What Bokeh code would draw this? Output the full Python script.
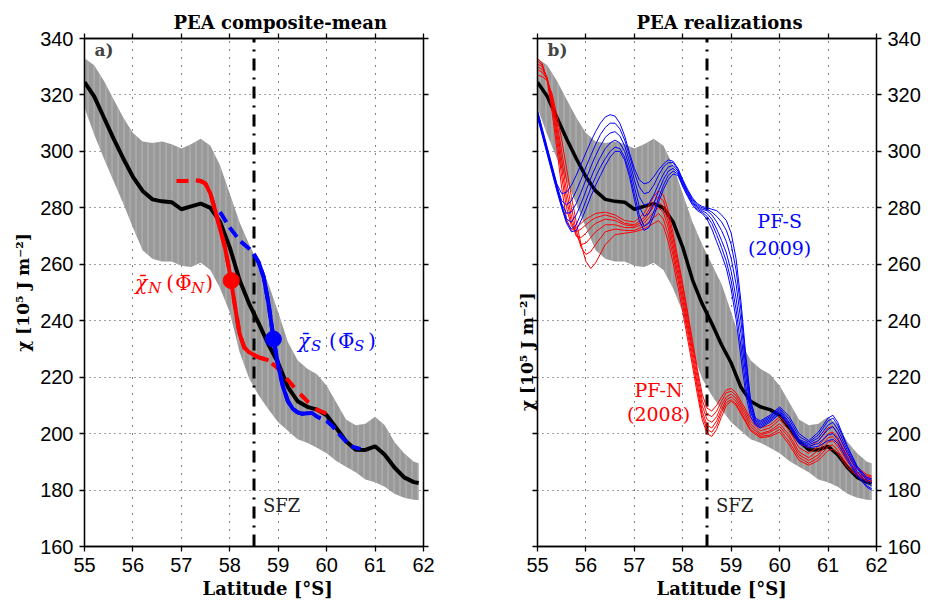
import math
from bokeh.plotting import figure
from bokeh.models import Range1d, FixedTicker, LinearAxis, CustomJSTickFormatter, Title, Label
from bokeh.layouts import row
from bokeh.embed import file_html
from bokeh.resources import INLINE

# ---------------- data ----------------
X_LO, X_HI = 55, 62
Y_LO, Y_HI = 160, 340
XTICKS = [55, 56, 57, 58, 59, 60, 61, 62]
YTICKS = [160, 180, 200, 220, 240, 260, 280, 300, 320, 340]
SFZ_LAT = 58.5

MEAN_LAT = [55.0, 55.2, 55.4, 55.6, 55.8, 56.0, 56.2, 56.4, 56.6, 56.8, 57.0, 57.2, 57.4, 57.6, 57.8,
            58.0, 58.2, 58.4, 58.6, 58.8, 59.0, 59.2, 59.4, 59.6, 59.8, 60.0, 60.2, 60.4, 60.6, 60.8,
            61.0, 61.2, 61.4, 61.6, 61.8, 61.9]
MEAN_PEA = [324.5, 319.5, 312, 304.5, 297.5, 291, 286, 283, 282.3, 282, 279.5, 280.5, 281.5, 280, 275,
            266, 254.5, 246, 239, 231.5, 225, 216.5, 211.5, 209.5, 208.5, 206.5, 202, 197.3, 194.3, 194.2,
            195.5, 192.5, 188, 184.5, 182.8, 182.5]
UPPER_PEA = [333, 330.5, 325, 318.5, 312, 306.5, 303.5, 303, 303.5, 302.5, 301, 302.5, 304.5, 302, 295,
             285, 275, 267, 260, 253, 243, 232.5, 226, 223, 221, 217, 211, 205, 203, 203.5,
             206, 203, 197, 193, 190, 189.5]
LOWER_PEA = [315.5, 306, 297.5, 289.5, 281.5, 273, 265, 262, 261, 261, 259.5, 259, 260.5, 258, 251.5,
             243, 229, 219.5, 213.5, 208.5, 204, 201, 198, 196.8, 195, 193, 190.3, 188.3, 186.3, 183.7,
             182.8, 181.2, 178.7, 177.3, 176.6, 176.5]

# panel a: composite means north / south
RED_A_LAT = [56.9, 57.1, 57.3, 57.4, 57.5, 57.6, 57.7, 57.8, 57.9, 58.0, 58.1, 58.2, 58.3, 58.4, 58.6,
             58.8, 59.0, 59.2, 59.4, 59.6, 59.8, 60.0]
RED_A_PEA = [289.5, 289.5, 289.8, 289.5, 288.5, 285, 279, 272.5, 266, 257, 246, 235.5, 230.5, 228.8, 227,
             226, 223, 219, 215, 211.5, 208.5, 207]
RED_SOLID = (57.3, 58.8)
BLUE_A_LAT = [57.8, 58.0, 58.2, 58.4, 58.5, 58.6, 58.7, 58.8, 58.9, 59.0, 59.1, 59.2, 59.3, 59.4, 59.5,
              59.6, 59.7, 59.8, 60.0, 60.1, 60.3, 60.5, 60.7]
BLUE_A_PEA = [278.5, 273, 268.5, 265.5, 263.5, 260.5, 255.5, 246, 234, 224, 216.5, 211.5, 208.8, 207.5, 207,
              207.2, 207.3, 206, 204.5, 203, 199, 195.5, 194.6]
BLUE_SOLID = (58.45, 59.7)
RED_MARK = (58.03, 254.2)
BLUE_MARK = (58.9, 233.5)

# panel b: realizations
RED_LAT = [55.0, 55.1, 55.2, 55.3, 55.4, 55.5, 55.6, 55.7, 55.8, 55.9, 56.0, 56.1, 56.2,
           56.4, 56.6, 56.8, 57.0, 57.2,
           57.4, 57.5, 57.6, 57.7, 57.8, 57.9, 58.0, 58.1, 58.2, 58.3, 58.4, 58.5, 58.6, 58.7, 58.8, 58.9, 59.0, 59.1,
           59.2, 59.4, 59.6, 59.8, 60.0, 60.2, 60.4, 60.6, 60.8, 61.0, 61.1, 61.2, 61.4, 61.6, 61.8, 61.9]
RED_R1 = [333, 331, 325, 314, 301, 287, 276, 272, 273, 274.5, 276, 277, 278,
          278.5, 277.5, 275.5, 275, 278,
          284, 286, 284.5, 279, 271, 262, 253, 243, 233, 223, 214, 209, 208, 210, 213, 215.5, 216, 214.5,
          211.5, 205.5, 202, 203, 206, 202.5, 196.5, 195, 197.5, 202, 202.5, 200, 193, 188, 185.5, 185]
RED_R2 = [332, 330.5, 325.5, 316, 304, 291, 280, 273.5, 271.5, 272.5, 274, 275.5, 276.5,
          277.5, 276.5, 274.5, 274, 276.5,
          282, 284, 282.5, 277, 269, 260.5, 251.5, 241.5, 231.5, 221.5, 212, 207, 206, 208, 211.5, 214.5, 215, 213.5,
          210.5, 204.5, 201, 202, 205, 201, 195, 193, 195.5, 200, 200.5, 198.5, 192, 187.5, 185, 184.5]
RED_R3 = [331, 330, 326, 317.5, 306.5, 294, 283, 275, 270, 269.5, 271, 273, 274.5,
          276, 275.5, 274, 273.5, 275.5,
          280.5, 282, 280.5, 275, 267, 258.5, 249.5, 239.5, 229.5, 219.5, 210, 205, 204, 206, 210, 213, 214, 212.5,
          209.5, 203.5, 200, 201, 203.5, 199.5, 193.5, 191.5, 194, 198.5, 199, 197, 191, 186.5, 184.5, 184]
RED_R4 = [330, 329, 326, 318.5, 308.5, 297, 286, 277, 270.5, 267, 267.5, 269.5, 271.5,
          274, 274, 273, 273, 274.5,
          278.5, 280, 278.5, 273, 265, 256.5, 247.5, 237.5, 227.5, 217.5, 208, 203, 202, 204.5, 208.5, 212, 213, 211.5,
          208.5, 202.5, 199.5, 200.5, 202.5, 198.5, 192.5, 190.5, 192.5, 197, 197.5, 195.5, 190, 186, 184, 183.5]
RED_R5 = [329, 328, 325.5, 319.5, 310.5, 300, 289.5, 280, 272, 266, 263.5, 264.5, 267,
          271.5, 272.5, 272, 272, 273.5,
          276.5, 278, 276, 270.5, 263, 254.5, 245.5, 235.5, 226, 216, 206.5, 201.5, 200.5, 203, 207.5, 211, 212, 210.5,
          207.5, 201.5, 199, 199.5, 201.5, 197, 191.5, 189.5, 191.5, 195.5, 196, 194, 189, 185.5, 183.5, 183.2]
RED_R6 = [327, 326.5, 325, 320.5, 313, 304, 294, 284, 275, 267, 261, 258.5, 260.5,
          267, 270.5, 271, 271.5, 272.5,
          274.5, 275.5, 273.5, 268, 260.5, 252, 243, 233.5, 224, 214, 205, 200, 199, 201.5, 206, 210, 211.5, 210,
          207, 201, 198.5, 199, 200.5, 196, 190.5, 188.8, 190.5, 194, 194.5, 193, 188, 185, 183.2, 183]

BLUE_LAT = [55.0, 55.1, 55.2, 55.3, 55.4, 55.5, 55.6, 55.7, 55.8, 55.9,
            56.0, 56.1, 56.2, 56.3, 56.4, 56.5, 56.6, 56.7, 56.8, 56.9,
            57.0, 57.1, 57.2, 57.3, 57.4, 57.5, 57.6, 57.7, 57.8, 57.9,
            58.0, 58.1, 58.2, 58.3, 58.4, 58.5, 58.6, 58.7, 58.8, 58.9,
            59.0, 59.1, 59.2, 59.3, 59.4, 59.5, 59.6,
            59.8, 60.0, 60.2, 60.4, 60.6, 60.8, 61.0, 61.1, 61.2, 61.4, 61.6, 61.8, 61.9]
BLUE_B1 = [314.5, 308, 301.5, 295, 288.5, 285, 285.5, 288, 291.5, 295.5,
           299.5, 303.5, 307, 310, 312.2, 313, 312.5, 310, 305.5, 299.5,
           294, 290, 288.5, 289, 291, 293.5, 295.5, 297, 296.5, 294,
           290, 286.5, 283.5, 281.5, 280.5, 280, 279.5, 279, 277.5, 275.5,
           271, 262, 247, 228, 212, 205.5, 204.5,
           206.5, 209.5, 206, 200, 197.5, 200.5, 205.5, 206.5, 204, 195.5, 188.5, 184.5, 184]
BLUE_B2 = [314, 307.5, 301, 294.5, 288, 282.5, 281, 282.5, 286, 290,
           294.5, 298.5, 302.5, 306, 308.5, 310, 310, 308, 304, 298.5,
           292.5, 287.5, 285, 285.5, 288, 291.5, 294.5, 296, 296, 293.5,
           289.5, 286, 283, 281, 280, 279.5, 278.5, 277, 275, 272,
           267, 258, 244, 226, 211, 205, 204,
           206, 209, 205, 199, 197, 199.5, 204.5, 205.5, 203, 195, 188, 184, 183.5]
BLUE_B3 = [313.5, 307, 300.5, 294, 287.5, 281.5, 278, 278.5, 281.5, 285.5,
           290, 294.5, 298.5, 302, 305, 306.5, 307, 305.5, 302, 296.5,
           290, 284, 281, 281.5, 284.5, 288.5, 292, 294.5, 295, 293,
           289, 285.5, 282.5, 280.5, 279.5, 279, 277.5, 275, 272, 268,
           262, 253, 240, 223.5, 210, 204.5, 203.5,
           205.5, 208.5, 204, 198, 196.5, 198.5, 203, 204, 201.5, 194, 187.5, 183.5, 182.5]
BLUE_B4 = [313, 306.5, 300, 293.5, 287, 281, 276, 275, 277.5, 281.5,
           286, 290.5, 294.5, 298, 301, 303, 304, 303, 300, 294.5,
           287.5, 280.5, 277, 278, 281.5, 286, 290, 293, 294, 292.5,
           288.5, 285, 282, 280, 279, 278, 276, 272.5, 268.5, 264,
           257.5, 248, 235.5, 220.5, 208.5, 204, 203,
           205, 208, 203.5, 197.5, 196, 197.5, 201.5, 202.5, 200, 193, 186.5, 182.5, 181.5]
BLUE_B5 = [312.5, 306, 299.5, 293, 286.5, 280.5, 275, 272.5, 274, 278,
           282.5, 287, 291, 294.5, 297.5, 300, 301.5, 301, 298, 292.5,
           285, 277.5, 273.5, 274.5, 278.5, 283.5, 288, 291.5, 293, 292,
           288, 284.5, 281.5, 279.5, 278.5, 277, 274.5, 270.5, 266, 261,
           254, 244, 231, 217, 207.5, 203.5, 202.5,
           204.5, 207.5, 203, 197, 195.5, 196.5, 199.5, 200, 198, 191.5, 185.5, 181.5, 180.5]
BLUE_B6 = [312, 305.5, 299, 292.5, 286, 280, 274.5, 271.5, 272, 275.5,
           279.5, 284, 288, 291.5, 295, 298, 300, 300, 297, 291,
           283, 275.5, 272, 273, 277, 282, 286.5, 290, 292, 291.5,
           287.5, 284, 281, 279, 278, 276, 272.5, 268, 263.5, 258.5,
           251, 240.5, 227, 214, 206, 203, 202,
           204, 207, 202.5, 196.5, 195, 195.5, 197.5, 198, 196.5, 190.5, 185, 181, 180]

RED_SET = [RED_R1, RED_R2, RED_R3, RED_R4, RED_R5, RED_R6]
BLUE_SET = [BLUE_B1, BLUE_B2, BLUE_B3, BLUE_B4, BLUE_B5, BLUE_B6]

RED = "#ff0000"
BLUE = "#0000ff"
BAND = "#999999"
SERIF = "DejaVu Serif"
SANS = "Liberation Sans"
YLABEL = "χ [10⁵ J m⁻²]"
XLABEL = "Latitude [°S]"


def style_axis(ax, ticks, labels):
    ax.ticker = FixedTicker(ticks=ticks)
    ax.major_tick_in = 0
    ax.major_tick_out = 5
    ax.minor_tick_line_color = None
    ax.axis_line_color = "black"
    ax.axis_line_width = 1.3
    ax.major_tick_line_color = "black"
    ax.major_tick_line_width = 1.3
    ax.major_label_text_font = SANS
    ax.major_label_text_font_size = "20px"
    ax.major_label_text_color = "black"
    ax.major_label_standoff = 6
    if not labels:
        ax.formatter = CustomJSTickFormatter(code="return ''")
        ax.major_label_standoff = 0


def base_fig(title, yside, bl, br, title_off, xlab_off):
    p = figure(width=476, height=609, x_range=Range1d(X_LO, X_HI), y_range=Range1d(Y_LO, Y_HI),
               output_backend="svg", toolbar_location=None, x_axis_location="below",
               y_axis_location=yside, min_border_left=bl, min_border_right=br,
               min_border_top=38, min_border_bottom=63,
               background_fill_color="white", border_fill_color="white")
    p.outline_line_color = "black"
    p.outline_line_width = 1.3
    style_axis(p.xaxis[0], XTICKS, True)
    style_axis(p.yaxis[0], YTICKS, True)
    top = LinearAxis()
    style_axis(top, XTICKS, False)
    p.add_layout(top, "above")
    other = LinearAxis()
    style_axis(other, YTICKS, False)
    p.add_layout(other, "left" if yside == "right" else "right")
    p.xgrid.ticker = FixedTicker(ticks=XTICKS)
    p.ygrid.ticker = FixedTicker(ticks=YTICKS)
    p.xgrid.grid_line_color = "black"
    p.xgrid.grid_line_dash = "1 7"
    p.xgrid.grid_line_width = 1
    p.ygrid.grid_line_color = "#444444"
    p.ygrid.grid_line_dash = "1 4"
    p.ygrid.grid_line_width = 1
    t = Title(text=title, align="left", offset=title_off, text_font=SERIF, text_font_style="bold",
              text_font_size="18px", text_color="black", standoff=2)
    p.add_layout(t, "above")
    xl = Title(text=XLABEL, align="left", offset=xlab_off, text_font=SERIF, text_font_style="bold",
               text_font_size="18px", text_color="black", standoff=3)
    p.add_layout(xl, "below")
    # band
    p.varea(x=MEAN_LAT, y1=LOWER_PEA, y2=UPPER_PEA, fill_color=BAND,
            hatch_pattern="vertical_line", hatch_color="#bdbdbd", hatch_scale=6, hatch_weight=1, hatch_alpha=0.8)
    # SFZ line
    p.line(x=[SFZ_LAT, SFZ_LAT], y=[Y_LO, Y_HI], line_color="black", line_width=3, line_dash="12 7 2 7")
    p.add_layout(Label(x=SFZ_LAT, y=174.5, x_offset=9, text="SFZ", text_font=SERIF, text_font_size="18px",
                       text_baseline="middle", text_color="#222222"))
    return p


# ---------------- panel a ----------------
pa = base_fig("PEA composite-mean", "left", 84, 53, 89, 118)
pa.add_layout(Title(text=YLABEL, align="center", text_font=SERIF, text_font_style="bold",
                    text_font_size="17px", text_color="black", standoff=10), "left")
pa.line(MEAN_LAT, MEAN_PEA, line_color="black", line_width=4)
pa.line(RED_A_LAT, RED_A_PEA, line_color=RED, line_width=4, line_dash="12 9")
rs = [(x, y) for x, y in zip(RED_A_LAT, RED_A_PEA) if RED_SOLID[0] <= x <= RED_SOLID[1]]
pa.line([a for a, _ in rs], [b for _, b in rs], line_color=RED, line_width=4)
pa.line(BLUE_A_LAT, BLUE_A_PEA, line_color=BLUE, line_width=4, line_dash="12 6")
bs = [(x, y) for x, y in zip(BLUE_A_LAT, BLUE_A_PEA) if BLUE_SOLID[0] <= x <= BLUE_SOLID[1]]
pa.line([a for a, _ in bs], [b for _, b in bs], line_color=BLUE, line_width=4)
pa.scatter([RED_MARK[0]], [RED_MARK[1]], size=16, color=RED)
pa.scatter([BLUE_MARK[0]], [BLUE_MARK[1]], size=16, color=BLUE)
pa.add_layout(Label(x=X_LO, y=Y_HI, x_offset=10, y_offset=-11, text="a)", text_font=SERIF,
                    text_font_style="bold", text_font_size="17px", text_baseline="middle"))


def math_label(p, x, y, color, sub):
    parts = [("χ̄", 0, 0, "20px", "italic"), (sub, 13, -5, "15px", "italic"), ("(", 31, 0, "20px", "normal"),
             ("Φ̄", 40, 0, "20px", "normal"), (sub, 56, -5, "15px", "italic"), (")", 70, 0, "20px", "normal")]
    for txt, dx, dy, fs, st in parts:
        p.add_layout(Label(x=x, y=y, x_offset=dx, y_offset=dy, text=txt, text_font=SERIF,
                           text_font_style=st, text_font_size=fs, text_color=color, text_baseline="middle"))


math_label(pa, 56.05, 253.5, RED, "N")
math_label(pa, 59.41, 232.9, BLUE, "S")

# ---------------- panel b ----------------
pb = base_fig("PEA realizations", "right", 61, 76, 99, 119)
yax = pb.yaxis[0]
yax.axis_label = YLABEL
yax.axis_label_text_font = SERIF
yax.axis_label_text_font_style = "bold"
yax.axis_label_text_font_size = "17px"
yax.axis_label_text_color = "black"
yax.axis_label_standoff = 6
if hasattr(yax, "axis_label_orientation"):
    yax.axis_label_orientation = math.pi / 2
pb.line(MEAN_LAT, MEAN_PEA, line_color="black", line_width=3.5)
pb.multi_line([RED_LAT] * len(RED_SET), RED_SET, line_color=RED, line_width=1)
pb.multi_line([BLUE_LAT] * len(BLUE_SET), BLUE_SET, line_color=BLUE, line_width=1)
pb.add_layout(Label(x=X_LO, y=Y_HI, x_offset=10, y_offset=-11, text="b)", text_font=SERIF,
                    text_font_style="bold", text_font_size="17px", text_baseline="middle"))
for txt, yy in [("PF-S", 275.3), ("(2009)", 265.7)]:
    pb.add_layout(Label(x=60.0, y=yy, text=txt, text_font=SERIF, text_font_size="19px", text_color=BLUE,
                        text_align="center", text_baseline="middle"))
for txt, yy in [("PF-N", 215.3), ("(2008)", 206.8)]:
    pb.add_layout(Label(x=57.5, y=yy, text=txt, text_font=SERIF, text_font_size="19px", text_color=RED,
                        text_align="center", text_baseline="middle"))

layout = row(pa, pb)
open("out.html", "w").write(file_html(layout, INLINE))
